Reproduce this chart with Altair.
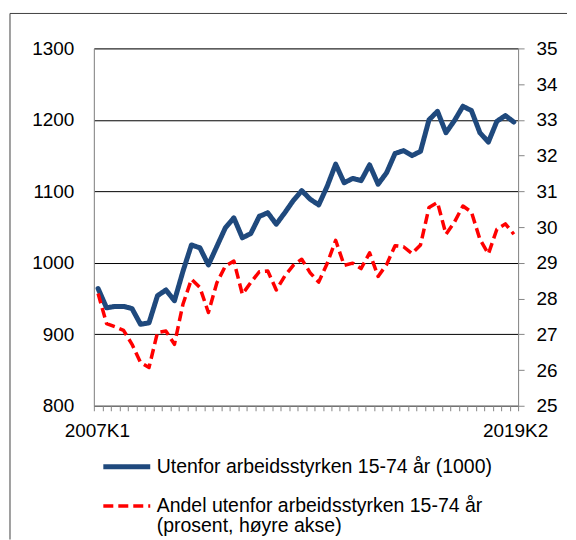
import altair as alt
import pandas as pd

# ---- data ----
quarters = [f"{y}K{q}" for y in range(2007, 2020) for q in range(1, 5)][:50]

utenfor_1000 = [964, 937, 939, 939, 936, 914, 916, 954, 962, 947,
                988, 1025, 1021, 997, 1023, 1049, 1063, 1035, 1041, 1065,
                1070, 1054, 1070, 1087, 1101, 1089, 1081, 1107, 1138, 1112,
                1118, 1115, 1137, 1110, 1126, 1153, 1157, 1150, 1156, 1200,
                1212, 1182, 1199, 1219, 1213, 1182, 1169, 1198, 1206, 1197]

andel_prosent = [28.14, 27.30, 27.21, 27.11, 26.72, 26.21, 26.07, 27.05, 27.09, 26.72,
                 27.84, 28.54, 28.31, 27.61, 28.44, 28.91, 29.05, 28.12, 28.45, 28.75,
                 28.77, 28.24, 28.63, 28.93, 29.10, 28.72, 28.46, 28.98, 29.63, 28.93,
                 28.99, 28.84, 29.28, 28.62, 28.95, 29.48, 29.45, 29.26, 29.50, 30.55,
                 30.69, 29.80, 30.14, 30.59, 30.42, 29.66, 29.25, 29.94, 30.09, 29.80]

series_names = ["Utenfor arbeidsstyrken 15-74 år (1000)",
                "Andel utenfor arbeidsstyrken 15-74 år (prosent, høyre akse)"]

left_ticks = [800, 900, 1000, 1100, 1200, 1300]
right_ticks = list(range(25, 36))

BLUE = "#1F497D"
RED = "#FF0000"
GREY = "#868686"
FONT = "Liberation Sans"

idx = list(range(len(quarters)))
df_blue = pd.DataFrame({"i": idx, "quarter": quarters, "v": utenfor_1000, "series": series_names[0]})
df_red = pd.DataFrame({"i": idx, "quarter": quarters, "v": andel_prosent, "series": series_names[1]})

n = len(quarters)
x_tick_values = [i - 0.5 for i in range(n + 1)]
label_expr = (f"datum.value == -0.5 ? '{quarters[0]}' : "
              f"datum.value == {n - 0.5} ? '{quarters[-1]}' : ''")

x_enc = alt.X("i:Q",
              scale=alt.Scale(domain=[-0.5, n - 0.5], nice=False, zero=False),
              axis=alt.Axis(values=x_tick_values, labelExpr=label_expr, title=None,
                            grid=False, tickSize=5, tickColor=GREY, domainColor=GREY,
                            labelPadding=11, labelFontSize=19, labelFont=FONT,
                            labelColor="black", labelOverlap=False, labelBound=False,
                            labelFlush=False,
                            labelOffset={"condition": {"test": "datum.value < 0", "value": 3},
                                         "value": -3}))

line1, line2 = series_names[1].split(" (")
legend_expr = (f"datum.label == '{series_names[1]}' ? ['{line1}', '({line2}'] : datum.label")


def make_legend():
    return alt.Legend(orient="none", legendX=7, legendY=393, title=None,
                      symbolType="stroke", symbolSize=2209,
                      labelFontSize=19.5, labelFont=FONT, labelColor="black",
                      labelExpr=legend_expr, labelLimit=600, labelOffset=4,
                      rowPadding=4, padding=0, direction="vertical")


color_enc = alt.Color("series:N",
                      scale=alt.Scale(domain=series_names, range=[BLUE, RED]),
                      legend=make_legend())
dash_enc = alt.StrokeDash("series:N",
                          scale=alt.Scale(domain=series_names, range=[[1, 0], [10, 5]]),
                          legend=make_legend())
width_enc = alt.StrokeWidth("series:N",
                            scale=alt.Scale(domain=series_names, range=[5, 3.5]),
                            legend=make_legend())

blue_line = alt.Chart(df_blue).mark_line(strokeJoin="round", strokeCap="round").encode(
    x=x_enc,
    y=alt.Y("v:Q", scale=alt.Scale(domain=[800, 1300], nice=False, zero=False),
            axis=alt.Axis(orient="left", values=left_ticks, title=None, grid=True,
                          gridColor="black", gridWidth=1, ticks=False, tickSize=0,
                          labelPadding=20, domainColor=GREY, labelFontSize=19,
                          labelFont=FONT, labelColor="black", format="d")),
    color=color_enc, strokeDash=dash_enc, strokeWidth=width_enc,
)

red_line = alt.Chart(df_red).mark_line(strokeJoin="round").encode(
    x=x_enc,
    y=alt.Y("v:Q", scale=alt.Scale(domain=[25, 35], nice=False, zero=False),
            axis=alt.Axis(orient="right", values=right_ticks, title=None, grid=False,
                          tickSize=6, tickColor=GREY, domainColor=GREY, labelPadding=12,
                          labelFontSize=19, labelFont=FONT, labelColor="black")),
    color=color_enc, strokeDash=dash_enc, strokeWidth=width_enc,
)

frame_df = pd.DataFrame({"a": [0]})
frame_left = alt.Chart(frame_df).mark_rule(color="#404040", strokeWidth=1).encode(
    x=alt.value(-84), y=alt.value(-35), y2=alt.value(492))
frame_top = alt.Chart(frame_df).mark_rule(color="#404040", strokeWidth=1).encode(
    x=alt.value(-84), x2=alt.value(474), y=alt.value(-35))

chart = alt.layer(blue_line, red_line, frame_left, frame_top).resolve_scale(
    y="independent"
).properties(
    width=425, height=358,
    padding={"left": 1, "top": 4, "right": 0, "bottom": 0},
).configure_view(stroke=None).configure(
    font=FONT, style={"guide-label": {"lineHeight": 20}}
)

chart.save("out.html", embed_options={"renderer": "svg", "actions": False})
